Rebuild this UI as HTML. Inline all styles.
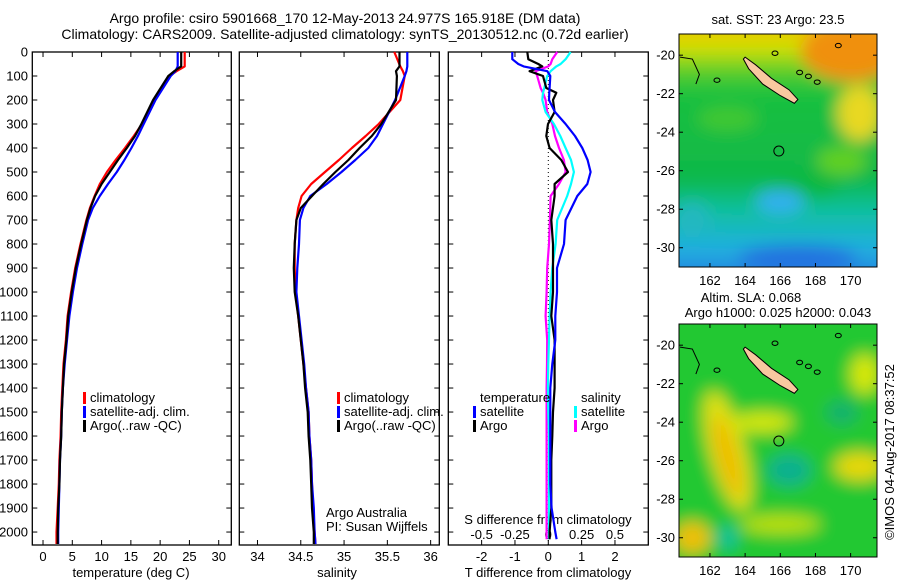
<!DOCTYPE html>
<html><head><meta charset="utf-8"><style>
html,body{margin:0;padding:0;background:#fff}
svg{display:block;font-family:"Liberation Sans",sans-serif}
</style></head><body>
<svg id="fig" width="900" height="580" viewBox="0 0 900 580" xmlns="http://www.w3.org/2000/svg">
<defs>
<filter id="blur" filterUnits="userSpaceOnUse" x="560" y="0" width="340" height="580"><feGaussianBlur stdDeviation="12"/></filter>
<filter id="blur2" filterUnits="userSpaceOnUse" x="560" y="0" width="340" height="580"><feGaussianBlur stdDeviation="8"/></filter>
<linearGradient id="sstg" x1="0" y1="0" x2="0" y2="1">
<stop offset="0" stop-color="#f0b400"/><stop offset="0.12" stop-color="#d8e000"/><stop offset="0.22" stop-color="#50cc30"/>
<stop offset="0.3" stop-color="#18c040"/><stop offset="0.6" stop-color="#10b848"/><stop offset="0.72" stop-color="#10c0a0"/><stop offset="0.86" stop-color="#20b0e0"/><stop offset="1" stop-color="#2070e0"/>
</linearGradient>
<clipPath id="c1"><rect x="679" y="34" width="198" height="233"/></clipPath>
<clipPath id="c2"><rect x="679" y="324" width="198" height="233"/></clipPath>
</defs>
<text x="345" y="23" font-size="14" text-anchor="middle">Argo profile: csiro 5901668_170 12-May-2013 24.977S 165.918E (DM data)</text>
<text x="345" y="39" font-size="14" text-anchor="middle">Climatology: CARS2009. Satellite-adjusted climatology: synTS_20130512.nc (0.72d earlier)</text>
<g id="plots"></g>
<g id="maps"></g>
</svg>
<script>
// ---- data ----
const depthT = [0,60,80,100,200,300,350,400,450,500,550,600,650,700,800,900,1000,1100,1200,1300,1400,1500,1600,1700,1800,1900,2000,2050];
const tempClim = [24.2,24.2,22.8,21.6,18.9,16.9,15.5,14.0,12.4,10.9,9.7,8.8,8.0,7.4,6.4,5.5,4.8,4.2,3.9,3.5,3.3,3.1,3.0,2.8,2.7,2.5,2.3,2.3];
const tempSat  = [23.0,23.0,22.6,21.8,19.2,17.2,16.2,15.1,13.9,12.6,11.1,9.7,8.5,7.7,6.7,5.8,5.1,4.5,4.1,3.7,3.4,3.2,3.1,2.9,2.8,2.7,2.6,2.6];
const tempArgo = [23.6,23.6,22.4,21.4,18.8,16.8,15.7,14.3,12.8,11.4,10.0,8.9,8.1,7.5,6.5,5.6,4.9,4.3,4.0,3.6,3.4,3.2,3.1,2.9,2.8,2.6,2.5,2.5];
const psalClim = [35.58,35.65,35.68,35.70,35.65,35.40,35.25,35.09,34.94,34.78,34.62,34.51,34.47,34.45,34.43,34.43,34.44,34.47,34.50,34.53,34.56,34.59,34.60,34.62,34.63,34.64,34.66,34.67];
const psalSat  = [35.73,35.73,35.72,35.70,35.59,35.45,35.38,35.28,35.13,34.97,34.80,34.61,34.53,34.49,34.48,34.46,34.45,34.48,34.51,34.54,34.56,34.59,34.60,34.62,34.63,34.65,34.66,34.67];
const psalArgo = [35.64,35.64,35.60,35.61,35.60,35.43,35.32,35.18,35.05,34.90,34.76,34.63,34.50,34.45,34.43,34.42,34.43,34.47,34.50,34.53,34.55,34.58,34.59,34.61,34.62,34.63,34.65,34.65];
const depthD = [0,30,50,60,80,100,150,170,200,250,300,350,400,450,500,550,600,700,800,900,1000,1100,1200,1300,1400,1500,1600,1700,1800,1900,2000,2030];
const dTsat  = [-1.08,-1.08,-0.9,-0.74,-0.03,0.06,0.04,0.03,0.02,0.2,0.52,0.8,1.02,1.18,1.27,1.17,0.87,0.52,0.47,0.26,0.26,0.21,0.21,0.12,0.06,0.06,0.06,0.06,0.06,0.1,0.21,0.25];
const dTargo = [-0.63,-0.6,-0.3,-0.18,-0.56,-0.16,-0.06,0.24,0.14,0.19,-0.01,-0.06,0.04,0.39,0.59,0.19,0.19,0.09,0.14,0.14,0.14,0.09,0.19,0.19,0.19,0.14,0.12,0.09,0.09,0.09,0.04,0.04];
const dSsat  = [0.167,0.13,0.092,0.06,0.017,-0.008,-0.03,-0.04,-0.045,-0.02,0.042,0.09,0.13,0.17,0.192,0.17,0.142,0.067,0.055,0.03,0.017,0.01,0.005,0.0,-0.003,0.0,0.005,0.005,0.005,0.005,0.005,0.005];
const dSargo = [0.067,0.03,0.017,0.0,-0.095,-0.083,-0.058,-0.04,-0.02,-0.008,0.03,0.05,0.08,0.117,0.13,0.08,0.017,0.012,0.005,-0.008,-0.013,-0.02,-0.008,-0.01,-0.013,-0.013,-0.013,-0.013,-0.013,-0.013,-0.013,-0.013];
const depthTicks = [0,100,200,300,400,500,600,700,800,900,1000,1100,1200,1300,1400,1500,1600,1700,1800,1900,2000];
const tTicks = [0,5,10,15,20,25,30];
const sTicks = [34,34.5,35,35.5,36];
const sTickLabels = ["34","34.5","35","35.5","36"];
const dtTicks = [-2,-1,0,1,2];
const dsTicks = [-0.5,-0.25,0,0.25,0.5];
const dsTickLabels = ["-0.5","-0.25","0","0.25","0.5"];
const latTicks = [-20,-22,-24,-26,-28,-30];
const lonTicks = [162,164,166,168,170];

const NS="http://www.w3.org/2000/svg";
const plots=document.getElementById('plots');
const maps=document.getElementById('maps');
function mk(tag,attrs,parent,txt){const e=document.createElementNS(NS,tag);for(const k in attrs)e.setAttribute(k,attrs[k]);if(txt!==undefined)e.textContent=txt;parent.appendChild(e);return e;}
const TOP=52,BOT=545;
function yDepth(d){return TOP+(d/2054)*(BOT-TOP);}
function lin(d0,d1,r0,r1){return v=>r0+(v-d0)/(d1-d0)*(r1-r0);}
const P1={x0:32.3,x1:231.3}, P2={x0:239.3,x1:439.3}, P3={x0:448.3,x1:648.3};
const xT=lin(-1.83,32.15,P1.x0,P1.x1);
const xS=lin(33.79,36.10,P2.x0,P2.x1);
const xDT=lin(-3,3,P3.x0,P3.x1);
const xDS=lin(-0.75,0.75,P3.x0,P3.x1);

function frame(P,name){
  const r=mk('rect',{x:P.x0,y:TOP,width:P.x1-P.x0,height:BOT-TOP,fill:'none',stroke:'#000','stroke-width':1.3},plots);
  
  
  depthTicks.forEach(d=>{
    mk('line',{x1:P.x0,x2:P.x0+5,y1:yDepth(d),y2:yDepth(d),stroke:'#000'},plots);
    mk('line',{x1:P.x1,x2:P.x1-5,y1:yDepth(d),y2:yDepth(d),stroke:'#000'},plots);
  });
}
function xticks(vals,labels,sc,name){
  const g=mk('g',{},plots);
  
  
  vals.forEach((v,i)=>{
    const x=sc(v);
    mk('line',{x1:x,x2:x,y1:BOT,y2:BOT-5,stroke:'#000'},g);
    mk('line',{x1:x,x2:x,y1:TOP,y2:TOP+5,stroke:'#000'},g);
    mk('text',{x:x,y:561,'font-size':13,'text-anchor':'middle'},g,labels[i]);
  });
}
function line(xs,ds,sc,color,name,w){
  const pts=xs.map((v,i)=>sc(v).toFixed(1)+','+yDepth(ds[i]).toFixed(1)).join(' ');
  const p=mk('polyline',{points:pts,fill:'none',stroke:color,'stroke-width':w||2.2,'stroke-linejoin':'round'},plots);
  
  
}
const dl=mk('g',{},plots);


depthTicks.forEach(d=>mk('text',{x:28,y:yDepth(d)+4.5,'font-size':13,'text-anchor':'end'},dl,String(d)));

frame(P1,'temperature-panel');
xticks(tTicks,tTicks.map(String),xT,'temperature-x-ticks');
line(tempClim,depthT,xT,'#f00','temp-climatology-line');
line(tempSat,depthT,xT,'#00f','temp-satellite-line');
line(tempArgo,depthT,xT,'#000','temp-argo-line');
mk('text',{x:131,y:577,'font-size':13,'text-anchor':'middle',},plots,'temperature (deg C)');

frame(P2,'salinity-panel');
xticks(sTicks,sTickLabels,xS,'salinity-x-ticks');
line(psalClim,depthT,xS,'#f00','psal-climatology-line');
line(psalSat,depthT,xS,'#00f','psal-satellite-line');
line(psalArgo,depthT,xS,'#000','psal-argo-line');
mk('text',{x:337,y:577,'font-size':13,'text-anchor':'middle',},plots,'salinity');
mk('text',{x:326,y:517,'font-size':13,},plots,'Argo Australia');
mk('text',{x:326,y:531,'font-size':13,},plots,'PI: Susan Wijffels');

frame(P3,'difference-panel');
mk('line',{x1:xDT(0),x2:xDT(0),y1:TOP,y2:BOT,stroke:'#000','stroke-dasharray':'1,3',},plots);
xticks(dtTicks,dtTicks.map(String),xDT,'t-difference-x-ticks');
const dsg=mk('g',{},plots);
dsTicks.forEach((v,i)=>mk('text',{x:xDS(v),y:539,'font-size':13,'text-anchor':'middle'},dsg,dsTickLabels[i]));
mk('text',{x:548,y:524,'font-size':13,'text-anchor':'middle',},plots,'S difference from climatology');
mk('text',{x:548,y:577,'font-size':13,'text-anchor':'middle',},plots,'T difference from climatology');
line(dSargo,depthD,xDS,'#f0f','s-argo-diff-line');
line(dSsat,depthD,xDS,'#0ff','s-satellite-diff-line');
line(dTargo,depthD,xDT,'#000','t-argo-diff-line');
line(dTsat,depthD,xDT,'#00f','t-satellite-diff-line');

function legend(x,y,items,name){
  const g=mk('g',{},plots);
  
  
  items.forEach((it,i)=>{
    const yy=y+i*14;
    if(it[0])mk('rect',{x:x,y:yy-10,width:3,height:12,fill:it[0]},g);
    mk('text',{x:x+7,y:yy,'font-size':13},g,it[1]);
  });
}
legend(83,402,[['#f00','climatology'],['#00f','satellite-adj. clim.'],['#000','Argo(..raw -QC)']],'temperature-legend');
legend(337,402,[['#f00','climatology'],['#00f','satellite-adj. clim.'],['#000','Argo(..raw -QC)']],'salinity-legend');
legend(473,402,[[null,'temperature'],['#00f','satellite'],['#000','Argo']],'t-diff-legend');
legend(574,402,[[null,'salinity'],['#0ff','satellite'],['#f0f','Argo']],'s-diff-legend');

// ---- maps ----
const mx=lin(160.24,171.5,679,877);
function drawMap(top,clip,kind,name){
  const my=lin(-18.9,-31,top,top+233);
  const g=mk('g',{'clip-path':'url(#'+clip+')'},maps);
  
  
  const bl=mk('g',{filter:'url(#blur2)'},g);
  if(kind==='sst'){
    mk('rect',{x:660,y:top-20,width:240,height:273,fill:'url(#sstg)'},bl);
    mk('ellipse',{cx:mx(170),cy:my(-19.8),rx:50,ry:30,fill:'#f09010'},bl);
    mk('ellipse',{cx:mx(170.5),cy:my(-23),rx:22,ry:28,fill:'#e8d820'},bl);
    mk('ellipse',{cx:mx(169.5),cy:my(-25.5),rx:25,ry:14,fill:'#60d020'},bl);
    mk('ellipse',{cx:mx(167.5),cy:my(-26.8),rx:35,ry:12,fill:'#10b840'},bl);
    mk('ellipse',{cx:mx(166),cy:my(-27.6),rx:25,ry:12,fill:'#30b0f0'},bl);
    mk('ellipse',{cx:mx(167),cy:my(-30.5),rx:60,ry:12,fill:'#2070e0'},bl);
    mk('ellipse',{cx:mx(161),cy:my(-28.5),rx:18,ry:18,fill:'#20b8c0'},bl);
    mk('ellipse',{cx:mx(163),cy:my(-23.3),rx:30,ry:12,fill:'#40c830'},bl);
  } else {
    mk('rect',{x:660,y:top-20,width:240,height:273,fill:'#22c830'},bl);
    mk('ellipse',{cx:mx(163),cy:my(-25.5),rx:18,ry:62,fill:'#e0e010',transform:'rotate(-15 '+mx(163)+' '+my(-25.5)+')'},bl);
    mk('ellipse',{cx:mx(163),cy:my(-25.8),rx:9,ry:42,fill:'#f0b800',transform:'rotate(-15 '+mx(163)+' '+my(-25.8)+')'},bl);
    mk('ellipse',{cx:mx(165),cy:my(-24),rx:30,ry:10,fill:'#d8e800'},bl);
    mk('ellipse',{cx:mx(170.5),cy:my(-26.3),rx:25,ry:14,fill:'#e8d800'},bl);
    mk('ellipse',{cx:mx(170.8),cy:my(-21.5),rx:14,ry:20,fill:'#d8e800'},bl);
    mk('ellipse',{cx:mx(161),cy:my(-30),rx:18,ry:16,fill:'#f0c000'},bl);
    mk('ellipse',{cx:mx(166.5),cy:my(-26.5),rx:22,ry:16,fill:'#10b090'},bl);
    mk('ellipse',{cx:mx(163),cy:my(-30),rx:10,ry:12,fill:'#10c0a0'},bl);
    mk('ellipse',{cx:mx(169.5),cy:my(-23.5),rx:16,ry:12,fill:'#18b070'},bl);
    mk('ellipse',{cx:mx(166),cy:my(-29.3),rx:40,ry:9,fill:'#c0e000'},bl);
  }
  const nc=[[164,-20.1],[164.6,-20.5],[165.5,-21.2],[166.5,-21.8],[167,-22.3],[166.8,-22.5],[166,-22.1],[165,-21.5],[164.2,-20.7],[163.9,-20.2]];
  const ncp=mk('polygon',{points:nc.map(p=>mx(p[0])+','+my(p[1])).join(' '),fill:'#f8c8a0',stroke:'#000','stroke-width':1},g);
  
  
  mk('polyline',{points:[[160.3,-20.1],[161,-20.2],[161.4,-21],[161.2,-21.5]].map(p=>mx(p[0])+','+my(p[1])).join(' '),fill:'none',stroke:'#000'},g);
  [[162.4,-21.3],[165.7,-19.9],[167.1,-20.9],[167.6,-21.1],[168.1,-21.4],[169.3,-19.5]].forEach(p=>mk('ellipse',{cx:mx(p[0]),cy:my(p[1]),rx:3,ry:2.2,fill:'none',stroke:'#000'},g));
  const c=mk('circle',{cx:mx(165.918),cy:my(-24.977),r:5,fill:'none',stroke:'#000','stroke-width':1},g);
  
  
  mk('rect',{x:679,y:top,width:198,height:233,fill:'none',stroke:'#000','stroke-width':1},maps);
  const ag=mk('g',{},maps);
  
  
  latTicks.forEach(v=>{const y=my(v);mk('line',{x1:679,x2:683,y1:y,y2:y,stroke:'#000'},ag);mk('line',{x1:877,x2:873,y1:y,y2:y,stroke:'#000'},ag);mk('text',{x:675,y:y+4.5,'font-size':13,'text-anchor':'end'},ag,String(v));});
  lonTicks.forEach(v=>{const x=mx(v);mk('line',{x1:x,x2:x,y1:top,y2:top+4,stroke:'#000'},ag);mk('line',{x1:x,x2:x,y1:top+233,y2:top+229,stroke:'#000'},ag);mk('text',{x:x,y:top+251,'font-size':13,'text-anchor':'middle'},ag,String(v));});
}
drawMap(34,'c1','sst','sst-map');
drawMap(324,'c2','sla','sla-map');
mk('text',{x:778,y:24,'font-size':13,'text-anchor':'middle',},maps,'sat. SST: 23 Argo: 23.5');
mk('text',{x:751,y:302,'font-size':13,'text-anchor':'middle',},maps,'Altim. SLA: 0.068');
mk('text',{x:778,y:317,'font-size':13,'text-anchor':'middle',},maps,'Argo h1000: 0.025 h2000: 0.043');
mk('text',{x:0,y:0,'font-size':13,'text-anchor':'middle',transform:'translate(894,452) rotate(-90)',},maps,'©IMOS 04-Aug-2017 08:37:52');
</script>
</body></html>
